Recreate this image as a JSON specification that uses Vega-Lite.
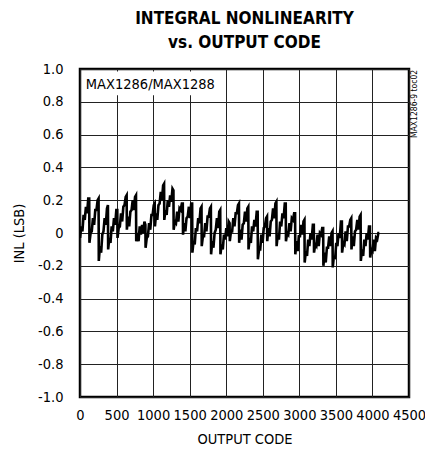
{
  "$schema": "https://vega.github.io/schema/vega-lite/v6.json",
  "width": 329,
  "height": 328,
  "autosize": {"type": "none"},
  "padding": {"left": 80, "top": 69, "right": 16, "bottom": 61},
  "background": "white",
  "title": {
    "text": ["INTEGRAL NONLINEARITY", "vs. OUTPUT CODE"],
    "font": "DejaVu Sans Condensed",
    "fontSize": 17,
    "fontWeight": "bold",
    "color": "black",
    "anchor": "middle",
    "frame": "group",
    "lineHeight": 24,
    "offset": 9
  },
  "config": {
    "view": {"stroke": "black", "strokeWidth": 2.5},
    "axis": {
      "labelFont": "DejaVu Sans Condensed",
      "labelFontSize": 14.5,
      "labelColor": "black",
      "titleFont": "DejaVu Sans Condensed",
      "titleFontSize": 14.5,
      "titleFontWeight": "normal",
      "titleColor": "black",
      "grid": true,
      "gridColor": "#222",
      "gridWidth": 1,
      "ticks": false,
      "domain": false
    }
  },
  "datasets": {
    "inl": [
      {"c":1,"v":-0.03},{"c":17,"v":0.04},{"c":33,"v":0.01},{"c":49,"v":0.11},{"c":65,"v":0.08},{"c":81,"v":0.16},{"c":97,"v":0.12},{"c":113,"v":0.21},{"c":126,"v":0.21},
      {"c":129,"v":-0.06},{"c":145,"v":0.00},{"c":161,"v":0.01},{"c":177,"v":0.09},{"c":193,"v":0.05},{"c":209,"v":0.14},{"c":225,"v":0.14},{"c":241,"v":0.20},{"c":254,"v":0.21},
      {"c":257,"v":-0.17},{"c":273,"v":-0.08},{"c":289,"v":-0.12},{"c":305,"v":-0.01},{"c":321,"v":0.01},{"c":337,"v":0.09},{"c":353,"v":0.05},{"c":369,"v":0.15},{"c":382,"v":0.17},
      {"c":385,"v":-0.10},{"c":401,"v":-0.03},{"c":417,"v":-0.06},{"c":433,"v":0.04},{"c":449,"v":0.01},{"c":465,"v":0.09},{"c":481,"v":0.05},{"c":497,"v":0.14},{"c":510,"v":0.14},
      {"c":513,"v":-0.03},{"c":529,"v":0.03},{"c":545,"v":0.04},{"c":561,"v":0.12},{"c":577,"v":0.07},{"c":593,"v":0.16},{"c":609,"v":0.17},{"c":625,"v":0.22},{"c":638,"v":0.23},
      {"c":641,"v":0.02},{"c":657,"v":0.10},{"c":673,"v":0.04},{"c":689,"v":0.13},{"c":705,"v":0.14},{"c":721,"v":0.20},{"c":737,"v":0.14},{"c":753,"v":0.22},{"c":766,"v":0.23},
      {"c":769,"v":-0.05},{"c":785,"v":0.00},{"c":801,"v":-0.05},{"c":817,"v":0.04},{"c":833,"v":-0.01},{"c":849,"v":0.05},{"c":865,"v":0.00},{"c":881,"v":0.07},{"c":894,"v":0.05},
      {"c":897,"v":-0.09},{"c":913,"v":-0.03},{"c":929,"v":-0.02},{"c":945,"v":0.06},{"c":961,"v":0.02},{"c":977,"v":0.11},{"c":993,"v":0.11},{"c":1009,"v":0.17},{"c":1022,"v":0.18},
      {"c":1025,"v":0.04},{"c":1041,"v":0.12},{"c":1057,"v":0.08},{"c":1073,"v":0.17},{"c":1089,"v":0.18},{"c":1105,"v":0.25},{"c":1121,"v":0.20},{"c":1137,"v":0.29},{"c":1150,"v":0.30},
      {"c":1153,"v":0.08},{"c":1169,"v":0.14},{"c":1185,"v":0.11},{"c":1201,"v":0.20},{"c":1217,"v":0.16},{"c":1233,"v":0.23},{"c":1249,"v":0.19},{"c":1265,"v":0.27},{"c":1278,"v":0.26},
      {"c":1281,"v":0.02},{"c":1297,"v":0.07},{"c":1313,"v":0.06},{"c":1329,"v":0.13},{"c":1345,"v":0.07},{"c":1361,"v":0.15},{"c":1377,"v":0.14},{"c":1393,"v":0.18},{"c":1406,"v":0.18},
      {"c":1409,"v":-0.01},{"c":1425,"v":0.06},{"c":1441,"v":0.01},{"c":1457,"v":0.09},{"c":1473,"v":0.10},{"c":1489,"v":0.16},{"c":1505,"v":0.09},{"c":1521,"v":0.18},{"c":1534,"v":0.18},
      {"c":1537,"v":-0.12},{"c":1553,"v":-0.05},{"c":1569,"v":-0.07},{"c":1585,"v":0.03},{"c":1601,"v":0.01},{"c":1617,"v":0.09},{"c":1633,"v":0.06},{"c":1649,"v":0.15},{"c":1662,"v":0.16},
      {"c":1665,"v":-0.08},{"c":1681,"v":-0.02},{"c":1697,"v":-0.02},{"c":1713,"v":0.06},{"c":1729,"v":0.01},{"c":1745,"v":0.10},{"c":1761,"v":0.10},{"c":1777,"v":0.15},{"c":1790,"v":0.16},
      {"c":1793,"v":-0.13},{"c":1809,"v":-0.05},{"c":1825,"v":-0.09},{"c":1841,"v":0.00},{"c":1857,"v":0.02},{"c":1873,"v":0.09},{"c":1889,"v":0.03},{"c":1905,"v":0.13},{"c":1918,"v":0.14},
      {"c":1921,"v":-0.13},{"c":1937,"v":-0.07},{"c":1953,"v":-0.10},{"c":1969,"v":-0.01},{"c":1985,"v":-0.04},{"c":2001,"v":0.03},{"c":2017,"v":-0.02},{"c":2033,"v":0.07},{"c":2046,"v":0.06},
      {"c":2049,"v":-0.05},{"c":2065,"v":0.01},{"c":2081,"v":0.01},{"c":2097,"v":0.09},{"c":2113,"v":0.04},{"c":2129,"v":0.12},{"c":2145,"v":0.12},{"c":2161,"v":0.17},{"c":2174,"v":0.18},
      {"c":2177,"v":-0.06},{"c":2193,"v":0.02},{"c":2209,"v":-0.04},{"c":2225,"v":0.05},{"c":2241,"v":0.06},{"c":2257,"v":0.13},{"c":2273,"v":0.07},{"c":2289,"v":0.15},{"c":2302,"v":0.16},
      {"c":2305,"v":-0.10},{"c":2321,"v":-0.03},{"c":2337,"v":-0.06},{"c":2353,"v":0.04},{"c":2369,"v":0.01},{"c":2385,"v":0.08},{"c":2401,"v":0.04},{"c":2417,"v":0.13},{"c":2430,"v":0.13},
      {"c":2433,"v":-0.16},{"c":2449,"v":-0.10},{"c":2465,"v":-0.10},{"c":2481,"v":-0.01},{"c":2497,"v":-0.06},{"c":2513,"v":0.03},{"c":2529,"v":0.04},{"c":2545,"v":0.09},{"c":2558,"v":0.10},
      {"c":2561,"v":-0.05},{"c":2577,"v":0.03},{"c":2593,"v":-0.02},{"c":2609,"v":0.07},{"c":2625,"v":0.08},{"c":2641,"v":0.15},{"c":2657,"v":0.09},{"c":2673,"v":0.18},{"c":2686,"v":0.19},
      {"c":2689,"v":-0.08},{"c":2705,"v":-0.01},{"c":2721,"v":-0.04},{"c":2737,"v":0.07},{"c":2753,"v":0.04},{"c":2769,"v":0.12},{"c":2785,"v":0.09},{"c":2801,"v":0.18},{"c":2814,"v":0.18},
      {"c":2817,"v":-0.05},{"c":2833,"v":0.00},{"c":2849,"v":-0.01},{"c":2865,"v":0.06},{"c":2881,"v":0.01},{"c":2897,"v":0.09},{"c":2913,"v":0.08},{"c":2929,"v":0.12},{"c":2942,"v":0.12},
      {"c":2945,"v":-0.13},{"c":2961,"v":-0.05},{"c":2977,"v":-0.11},{"c":2993,"v":-0.02},{"c":3009,"v":-0.02},{"c":3025,"v":0.05},{"c":3041,"v":-0.01},{"c":3057,"v":0.07},{"c":3070,"v":0.08},
      {"c":3073,"v":-0.18},{"c":3089,"v":-0.11},{"c":3105,"v":-0.14},{"c":3121,"v":-0.04},{"c":3137,"v":-0.08},{"c":3153,"v":0.00},{"c":3169,"v":-0.04},{"c":3185,"v":0.05},{"c":3198,"v":0.05},
      {"c":3201,"v":-0.12},{"c":3217,"v":-0.07},{"c":3233,"v":-0.08},{"c":3249,"v":-0.01},{"c":3265,"v":-0.08},{"c":3281,"v":0.00},{"c":3297,"v":-0.01},{"c":3313,"v":0.03},{"c":3326,"v":0.03},
      {"c":3329,"v":-0.20},{"c":3345,"v":-0.12},{"c":3361,"v":-0.18},{"c":3377,"v":-0.09},{"c":3393,"v":-0.09},{"c":3409,"v":-0.02},{"c":3425,"v":-0.08},{"c":3441,"v":0.00},{"c":3454,"v":0.01},
      {"c":3457,"v":-0.21},{"c":3473,"v":-0.14},{"c":3489,"v":-0.16},{"c":3505,"v":-0.06},{"c":3521,"v":-0.08},{"c":3537,"v":0.00},{"c":3553,"v":-0.03},{"c":3569,"v":0.07},{"c":3582,"v":0.07},
      {"c":3585,"v":-0.12},{"c":3601,"v":-0.06},{"c":3617,"v":-0.07},{"c":3633,"v":0.01},{"c":3649,"v":-0.05},{"c":3665,"v":0.04},{"c":3681,"v":0.04},{"c":3697,"v":0.08},{"c":3710,"v":0.09},
      {"c":3713,"v":-0.10},{"c":3729,"v":-0.02},{"c":3745,"v":-0.08},{"c":3761,"v":0.01},{"c":3777,"v":0.02},{"c":3793,"v":0.08},{"c":3809,"v":0.02},{"c":3825,"v":0.10},{"c":3838,"v":0.11},
      {"c":3841,"v":-0.17},{"c":3857,"v":-0.10},{"c":3873,"v":-0.14},{"c":3889,"v":-0.04},{"c":3905,"v":-0.08},{"c":3921,"v":0.00},{"c":3937,"v":-0.04},{"c":3953,"v":0.04},{"c":3966,"v":0.04},
      {"c":3969,"v":-0.15},{"c":3985,"v":-0.10},{"c":4001,"v":-0.11},{"c":4017,"v":-0.04},{"c":4033,"v":-0.11},{"c":4049,"v":-0.03},{"c":4065,"v":-0.04},{"c":4081,"v":0.00},{"c":4094,"v":0.00}
    ],
    "box": [{"c": 30, "c2": 1900, "v": 0.84, "v2": 0.985}],
    "lab": [{"c": 80, "v": 0.905, "t": "MAX1286/MAX1288"}],
    "side": [{"c": 4570, "v": 0.995, "t": "MAX1286-9 toc02"}]
  },
  "encoding": {
    "x": {
      "field": "c", "type": "quantitative",
      "scale": {"domain": [0, 4500], "nice": false},
      "axis": {
        "values": [0, 500, 1000, 1500, 2000, 2500, 3000, 3500, 4000, 4500],
        "format": "d",
        "title": "OUTPUT CODE",
        "labelPadding": 11,
        "titlePadding": 11,
        "labelFlush": false,
        "labelOverlap": false
      }
    },
    "y": {
      "field": "v", "type": "quantitative",
      "scale": {"domain": [-1, 1], "nice": false},
      "axis": {
        "values": [-1, -0.8, -0.6, -0.4, -0.2, 0, 0.2, 0.4, 0.6, 0.8, 1],
        "labelExpr": "datum.value == 0 ? '0' : (datum.value < 0 ? '-' : '') + format(abs(datum.value), '.1f')",
        "title": "INL (LSB)",
        "labelPadding": 17,
        "titlePadding": 11,
        "labelFlush": false,
        "labelOverlap": false
      }
    }
  },
  "layer": [
    {
      "data": {"name": "inl"},
      "mark": {"type": "line", "color": "black", "strokeWidth": 2.6, "strokeJoin": "miter", "clip": true}
    },
    {
      "data": {"name": "box"},
      "mark": {"type": "rect", "fill": "white", "stroke": null},
      "encoding": {
        "x2": {"field": "c2"},
        "y2": {"field": "v2"}
      }
    },
    {
      "data": {"name": "lab"},
      "mark": {"type": "text", "align": "left", "baseline": "middle", "dx": 0, "font": "DejaVu Sans Condensed", "fontSize": 14.5, "color": "black"},
      "encoding": {
        "text": {"field": "t"}
      }
    },
    {
      "data": {"name": "side"},
      "mark": {"type": "text", "angle": 270, "align": "right", "baseline": "middle", "font": "DejaVu Sans Condensed", "fontSize": 8.5, "color": "black", "clip": false},
      "encoding": {
        "text": {"field": "t"}
      }
    }
  ]
}
